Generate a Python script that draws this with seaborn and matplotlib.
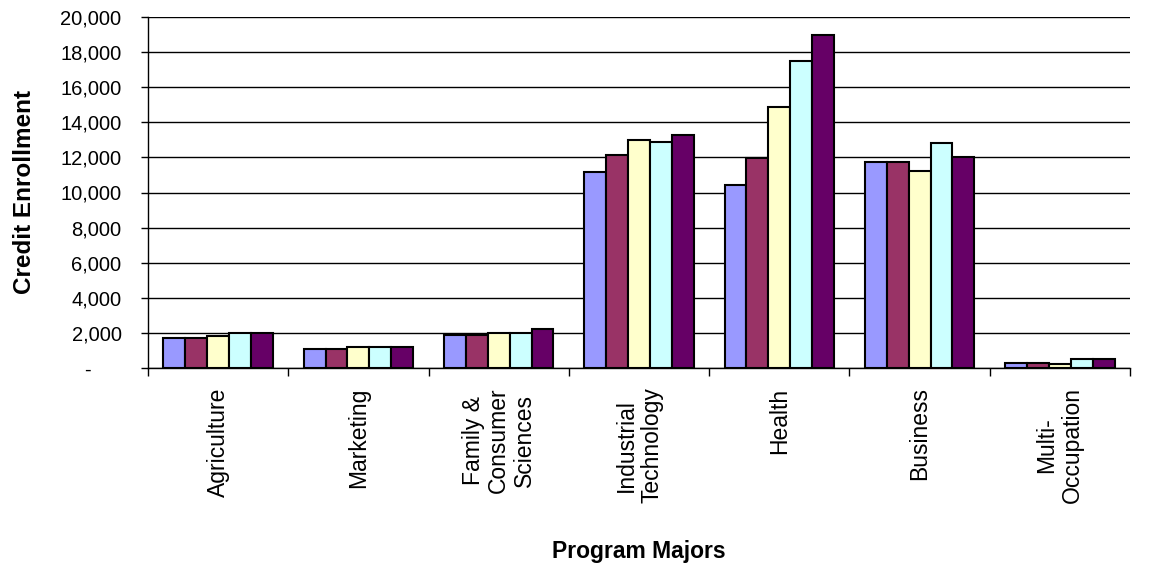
import matplotlib
matplotlib.use("Agg")
import matplotlib.pyplot as plt
import matplotlib.ticker as mticker
import seaborn as sns
import pandas as pd

categories = ["Agriculture", "Marketing", "Family &\nConsumer\nSciences",
              "Industrial\nTechnology", "Health", "Business", "Multi-\nOccupation"]
series_names = ["Year 1", "Year 2", "Year 3", "Year 4", "Year 5"]
year1 = [1700, 1100, 1900, 11150, 10450, 11750, 300]
year2 = [1700, 1100, 1900, 12150, 11950, 11750, 300]
year3 = [1800, 1200, 2000, 13000, 14900, 11200, 200]
year4 = [2000, 1200, 2000, 12850, 17500, 12800, 530]
year5 = [2000, 1200, 2200, 13300, 19000, 12000, 530]
colors = ["#9999FF", "#993366", "#FFFFCC", "#CCFFFF", "#660066"]

rows = []
for name, vals in zip(series_names, [year1, year2, year3, year4, year5]):
    for c, v in zip(categories, vals):
        rows.append({"Program": c, "Series": name, "Enrollment": v})
df = pd.DataFrame(rows)

sns.set_theme(style="white")
plt.rcParams["font.family"] = ["Liberation Sans", "DejaVu Sans"]

fig = plt.figure(figsize=(11.5, 5.69), dpi=100)
ax = fig.add_axes([148/1150, 1-368/569, (1130-148)/1150, (368-17)/569])

sns.barplot(data=df, x="Program", y="Enrollment", hue="Series", order=categories,
            hue_order=series_names, palette=colors, width=0.78, edgecolor="black",
            linewidth=1.5, saturation=1, ax=ax, legend=False, zorder=3)

ax.set_ylim(0, 20000)
ax.set_xlim(-0.5, len(categories) - 0.5)
ax.set_yticks(range(0, 20001, 2000))
ax.yaxis.set_major_formatter(mticker.FuncFormatter(
    lambda v, p: "-\u2002\u2002\u2002" if v == 0 else f"{int(v):,}"))
ax.yaxis.grid(True, color="black", linewidth=1.0, zorder=0)
ax.set_axisbelow(True)

for s in ["top", "right"]:
    ax.spines[s].set_visible(False)
for s in ["left", "bottom"]:
    ax.spines[s].set_color("black")
    ax.spines[s].set_linewidth(1.0)

ax.tick_params(axis="y", which="major", left=True, length=5, width=1, color="black",
               labelsize=14.5, labelcolor="black", pad=14)
ax.tick_params(axis="x", which="major", bottom=False, length=0, labelsize=16.5,
               labelcolor="black", pad=14)
ax.set_xticks(range(len(categories)))
ax.set_xticklabels(categories, rotation=90, ha="center", va="top",
                   multialignment="center", linespacing=1.15)
ax.set_xticks([i + 0.5 for i in range(-1, len(categories))], minor=True)
ax.tick_params(axis="x", which="minor", bottom=True, length=6, width=1, color="black")

ax.set_ylabel("Credit Enrollment", fontsize=17.5, fontweight="bold", color="black")
ax.yaxis.set_label_coords((36 - 148) / 982, 0.5)
ax.set_xlabel("Program Majors", fontsize=16.5, fontweight="bold", color="black")
ax.xaxis.set_label_coords(0.5, (368 - 540) / 351)

fig.savefig("out.png", dpi=100)
